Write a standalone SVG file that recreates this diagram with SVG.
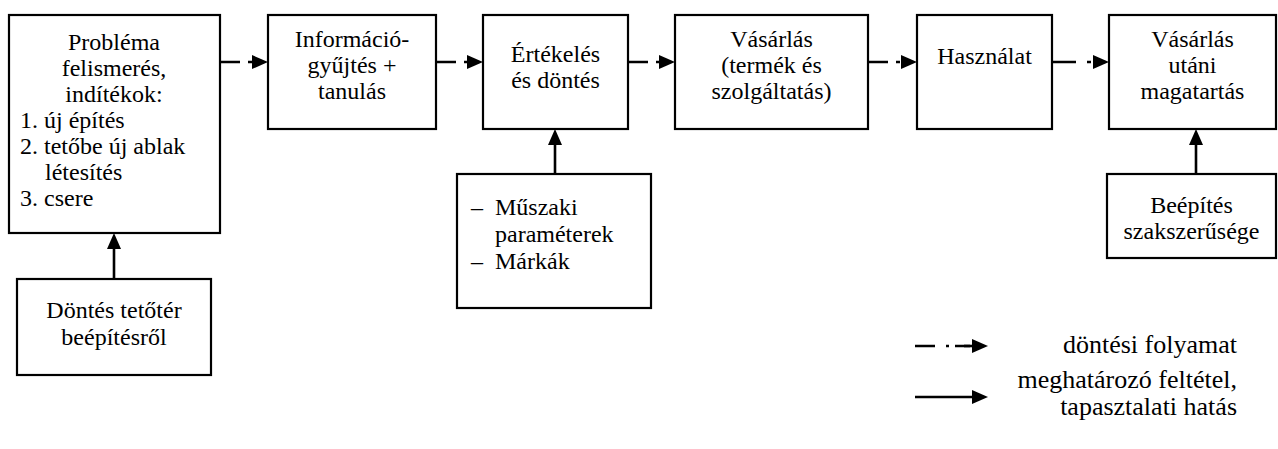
<svg xmlns="http://www.w3.org/2000/svg" width="1278" height="449" viewBox="0 0 1278 449">
<style>
.box{fill:#fff;stroke:#000;stroke-width:2.2}
text{font-family:"Liberation Serif","Times New Roman",serif;font-size:24px;fill:#000}
.lg{font-size:26px}
.c{text-anchor:middle}
.r{text-anchor:end}
.flow{stroke:#000;stroke-width:2.6;fill:none}
.solid{stroke:#000;stroke-width:2.6;fill:none}
</style>
<defs>
<marker id="ah" markerWidth="16" markerHeight="14" refX="0" refY="7" orient="auto" markerUnits="userSpaceOnUse">
<path d="M0,0 L16,7 L0,14 Z" fill="#000"/>
</marker>
</defs>
<rect width="1278" height="449" fill="#fff"/>
<g id="connectors">
<line class="flow" x1="220" y1="62" x2="252" y2="62" stroke-dasharray="20 8 4 100" marker-end="url(#ah)"/>
<line class="flow" x1="436" y1="62" x2="467" y2="62" stroke-dasharray="20 8 4 100" marker-end="url(#ah)"/>
<line class="flow" x1="628" y1="62" x2="659" y2="62" stroke-dasharray="20 8 4 100" marker-end="url(#ah)"/>
<line class="flow" x1="868" y1="62" x2="901" y2="62" stroke-dasharray="20 8 4 100" marker-end="url(#ah)"/>
<line class="flow" x1="1052" y1="62" x2="1093" y2="62" stroke-dasharray="24 11 4 100" marker-end="url(#ah)"/>
<line class="solid" x1="114" y1="279" x2="114" y2="249" marker-end="url(#ah)"/>
<line class="solid" x1="555" y1="174" x2="555" y2="145" marker-end="url(#ah)"/>
<line class="solid" x1="1196" y1="174" x2="1196" y2="145" marker-end="url(#ah)"/>
</g>
<g id="n1">
<rect class="box" x="9" y="15" width="211" height="218"/>
<text class="c" x="114" y="50">Probléma</text>
<text class="c" x="114" y="76">felismerés,</text>
<text class="c" x="114" y="102">indítékok:</text>
<text x="20" y="128">1. új építés</text>
<text x="20" y="154">2. tetőbe új ablak</text>
<text x="45" y="180">létesítés</text>
<text x="20" y="206">3. csere</text>
</g>
<g id="n2">
<rect class="box" x="268" y="15" width="168" height="114"/>
<text class="c" x="352" y="47">Információ-</text>
<text class="c" x="352" y="73">gyűjtés +</text>
<text class="c" x="352" y="99">tanulás</text>
</g>
<g id="n3">
<rect class="box" x="483" y="15" width="145" height="114"/>
<text class="c" x="555.5" y="62">Értékelés</text>
<text class="c" x="555.5" y="88">és döntés</text>
</g>
<g id="n4">
<rect class="box" x="675" y="15" width="193" height="114"/>
<text class="c" x="771.5" y="47">Vásárlás</text>
<text class="c" x="771.5" y="73">(termék és</text>
<text class="c" x="771.5" y="99">szolgáltatás)</text>
</g>
<g id="n5">
<rect class="box" x="917" y="15" width="135" height="114"/>
<text class="c" x="984.5" y="64">Használat</text>
</g>
<g id="n6">
<rect class="box" x="1109" y="15" width="167" height="114"/>
<text class="c" x="1192.5" y="47">Vásárlás</text>
<text class="c" x="1192.5" y="73">utáni</text>
<text class="c" x="1192.5" y="99">magatartás</text>
</g>
<g id="n7">
<rect class="box" x="17" y="279" width="194" height="96"/>
<text class="c" x="114" y="318">Döntés tetőtér</text>
<text class="c" x="114" y="345">beépítésről</text>
</g>
<g id="n8">
<rect class="box" x="457" y="174" width="194" height="134"/>
<text x="471" y="215">–</text>
<text x="495" y="215">Műszaki</text>
<text x="495" y="242">paraméterek</text>
<text x="471" y="269">–</text>
<text x="495" y="269">Márkák</text>
</g>
<g id="n9">
<rect class="box" x="1107" y="174" width="169" height="84"/>
<text class="c" x="1191.5" y="213">Beépítés</text>
<text class="c" x="1191.5" y="239">szakszerűsége</text>
</g>
<g id="legend">
<line class="flow" x1="915" y1="346" x2="970" y2="346" stroke-dasharray="20 11 3 6 30"/>
<line class="flow" x1="964" y1="346" x2="972" y2="346" marker-end="url(#ah)"/>
<text class="r lg" x="1237" y="353">döntési folyamat</text>
<line class="solid" x1="915" y1="397" x2="972" y2="397" marker-end="url(#ah)"/>
<text class="r lg" x="1237" y="388">meghatározó feltétel,</text>
<text class="r lg" x="1237" y="415">tapasztalati hatás</text>
</g>
</svg>
